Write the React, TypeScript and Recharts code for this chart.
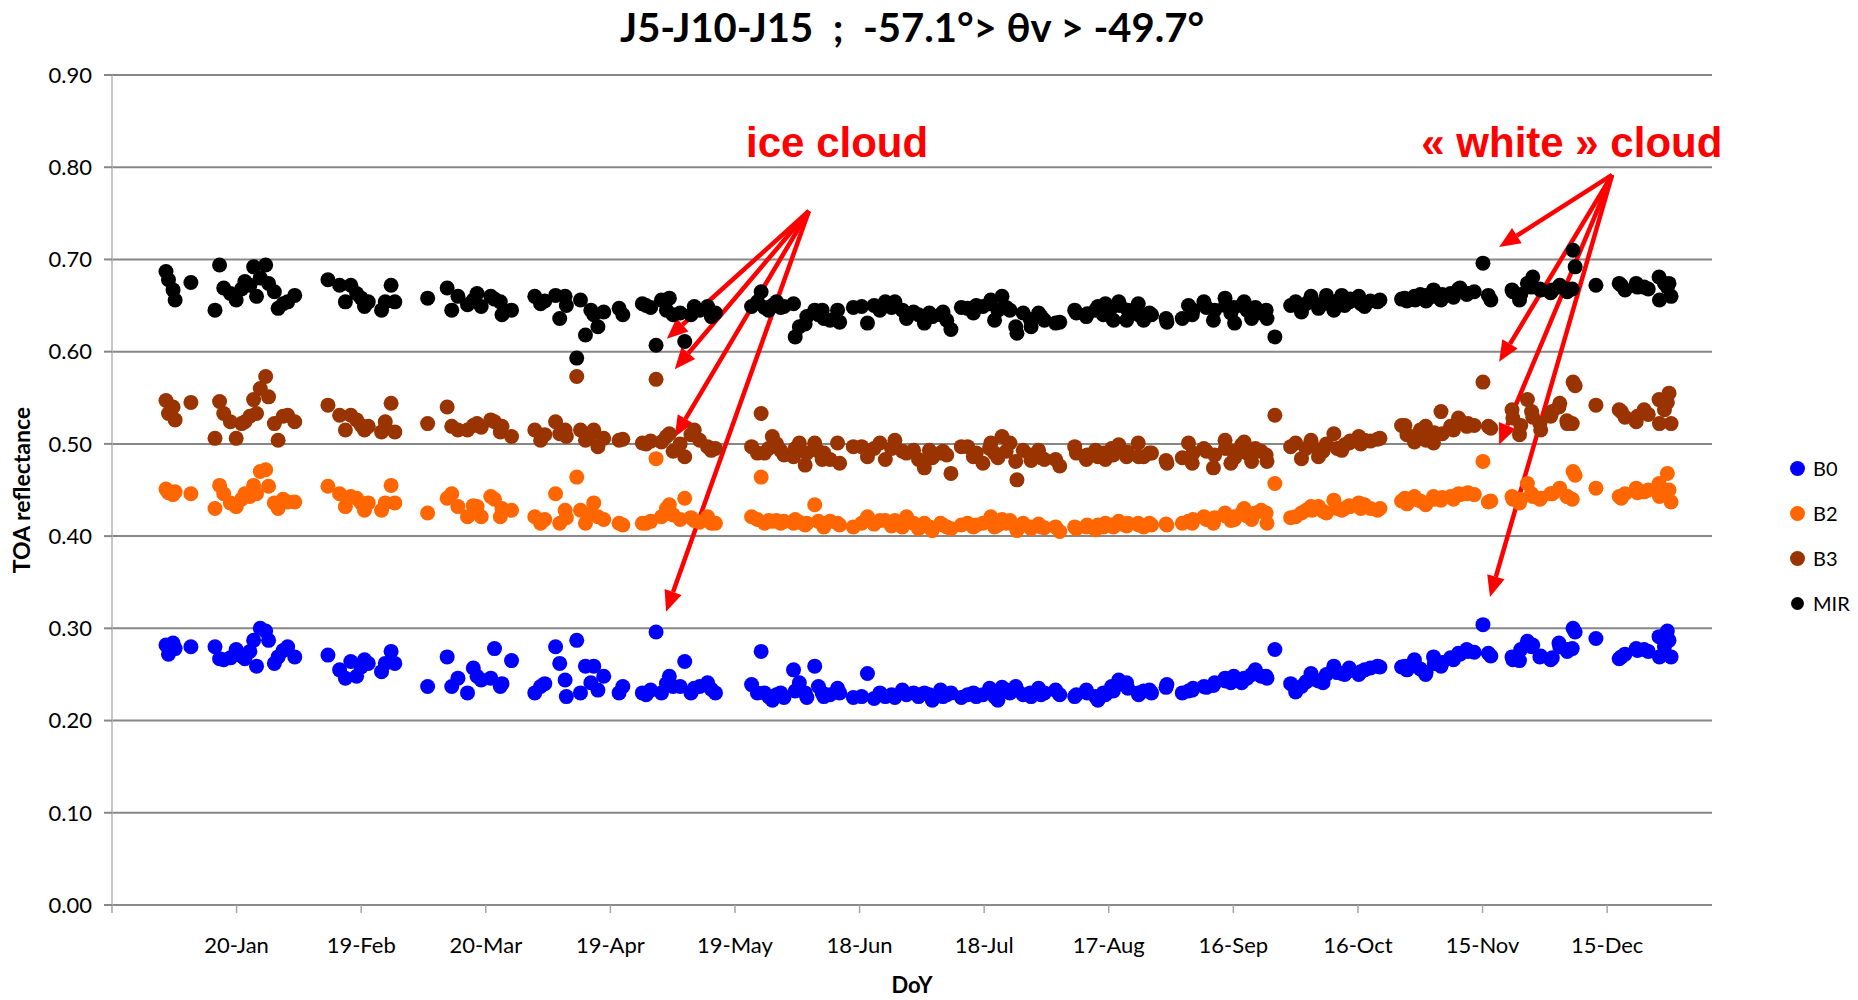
import React from 'react';
import {
  ScatterChart,
  Scatter,
  XAxis,
  YAxis,
  CartesianGrid,
  ReferenceLine,
  ReferenceDot,
  Label,
} from 'recharts';

// Observation days (day of year) shared by all four bands
const days = [
  3, 3.6, 4.7, 5.2, 9,
  14.8, 15.9, 16.9, 18.5, 19.9, 21.2, 22.0, 23.2, 24.1, 24.8, 25.7, 27.0, 27.7, 29.1, 30.0, 31.2, 32.3, 34.0,
  42.0, 44.8, 46.2, 47.5, 48.9, 50.0, 50.8, 51.7, 54.9, 55.8, 57.2, 58.1,
  66.0, 70.7, 71.8, 73.3, 75.6, 77.0, 77.9, 78.9, 81.2, 82.1, 83.5, 83.9, 86.2,
  91.8, 93.2, 94.2, 96.8, 97.8, 99.1, 99.4, 101.9, 102.8, 104.0, 105.3, 106.0, 107.0, 108.4, 112.1, 113.0,
  117.7, 118.6, 119.7, 121.0, 122.3, 123.5, 124.2, 125.1, 126.8, 127.9, 129.4, 130.2, 131.5, 133.4, 134.3, 135.3,
  144.0, 145.4, 146.3, 147.1, 148.1, 149.0, 150.0, 151.0, 151.8, 154.1, 154.5, 155.5, 156.9, 157.3, 159.2, 160.1, 161.0, 161.4, 162.9, 164.7, 165.2,
  168.5, 170.5, 171.9, 173.5, 174.9, 176.2, 177.7, 178.5, 180.3, 181.3, 183.0, 184.2, 185.6, 186.8, 187.5, 189.5, 190.1, 191.0, 192.0,
  194.5, 196.0, 197.4, 198.1, 199.7, 201.3, 201.6, 202.5, 203.3, 204.3, 205.3, 206.2, 207.6, 207.9, 209.4, 211.1, 211.3, 213.1, 213.7, 214.5, 217.2, 218.2,
  221.8, 222.2, 224.6, 224.8, 226.8, 227.4, 228.7, 229.2, 230.7, 231.1, 232.4, 232.7, 234.3, 234.6, 237.1, 237.2, 238.4, 239.8, 240.3, 243.8, 244.0,
  247.7, 249.2, 250.1, 250.3, 252.9, 253.5, 255.2, 255.5, 258.0, 258.1, 259.4, 260.1, 260.3, 262.0, 262.6, 263.3, 264.4, 265.3, 266.7, 267.9, 268.1, 270.0,
  273.8, 275.0, 276.4, 277.5, 278.7, 279.0, 280.5, 281.6, 282.4, 284.2, 285.0, 286.1, 286.8, 287.9, 288.1, 290.2, 290.7, 291.6, 293.0, 294.7, 295.3,
  300.5, 301.3, 301.8, 303.6, 303.8, 305.0, 306.3, 306.4, 308.2, 308.4, 310.0, 310.3, 312.3, 313.0, 314.2, 314.6, 316.2, 316.5, 318.0, 320.1,
  321.4, 322.0, 327.1, 327.3, 328.9, 329.2, 330.8, 331.8, 332.1, 333.8, 334.0, 336.4, 336.8, 338.4, 338.6, 340.3, 340.4, 341.6, 341.8, 342.3,
  347.3, 352.9, 353.4, 354.3, 357.0, 357.3, 358.9, 359.9, 362.5, 362.6, 363.8, 364.5, 364.9, 365.4,
];

const b0 = [
  0.282, 0.272, 0.284, 0.278, 0.280,
  0.280, 0.267, 0.266, 0.268, 0.277, 0.270, 0.267, 0.275, 0.287, 0.259, 0.300, 0.297, 0.287, 0.262, 0.269, 0.276, 0.280, 0.269,
  0.271, 0.255, 0.246, 0.264, 0.248, 0.258, 0.266, 0.262, 0.253, 0.262, 0.275, 0.262,
  0.237, 0.269, 0.237, 0.246, 0.230, 0.257, 0.248, 0.244, 0.246, 0.278, 0.237, 0.240, 0.265,
  0.230, 0.237, 0.240, 0.280, 0.262, 0.244, 0.226, 0.287, 0.230, 0.259, 0.241, 0.259, 0.233, 0.248, 0.230, 0.237,
  0.230, 0.228, 0.233, 0.296, 0.230, 0.240, 0.248, 0.237, 0.237, 0.264, 0.230, 0.235, 0.237, 0.241, 0.234, 0.230,
  0.239, 0.230, 0.275, 0.230, 0.226, 0.222, 0.228, 0.230, 0.225, 0.255, 0.232, 0.241, 0.230, 0.225, 0.259, 0.237, 0.230, 0.226, 0.228, 0.235, 0.230,
  0.225, 0.226, 0.251, 0.224, 0.230, 0.226, 0.228, 0.225, 0.233, 0.228, 0.230, 0.226, 0.230, 0.228, 0.222, 0.233, 0.226, 0.228, 0.230,
  0.225, 0.228, 0.230, 0.226, 0.228, 0.235, 0.230, 0.226, 0.222, 0.236, 0.233, 0.230, 0.237, 0.233, 0.228, 0.230, 0.226, 0.235, 0.228, 0.230, 0.233, 0.228,
  0.226, 0.228, 0.233, 0.230, 0.226, 0.222, 0.230, 0.228, 0.237, 0.232, 0.244, 0.240, 0.241, 0.235, 0.230, 0.228, 0.232, 0.233, 0.230, 0.236, 0.239,
  0.230, 0.232, 0.233, 0.235, 0.237, 0.236, 0.238, 0.241, 0.246, 0.243, 0.241, 0.248, 0.244, 0.241, 0.246, 0.246, 0.250, 0.255, 0.248, 0.248, 0.246, 0.277,
  0.240, 0.231, 0.237, 0.242, 0.251, 0.245, 0.243, 0.241, 0.250, 0.259, 0.252, 0.251, 0.250, 0.257, 0.254, 0.250, 0.253, 0.255, 0.257, 0.259, 0.258,
  0.258, 0.259, 0.255, 0.266, 0.260, 0.256, 0.250, 0.252, 0.269, 0.262, 0.259, 0.263, 0.268, 0.266, 0.273, 0.272, 0.277, 0.275, 0.274, 0.304,
  0.273, 0.270, 0.269, 0.266, 0.265, 0.277, 0.286, 0.280, 0.282, 0.269, 0.270, 0.266, 0.268, 0.284, 0.280, 0.277, 0.275, 0.278, 0.300, 0.296,
  0.289, 0.267, 0.269, 0.272, 0.278, 0.276, 0.277, 0.275, 0.291, 0.269, 0.280, 0.297, 0.287, 0.269,
];

const b2 = [
  0.451, 0.447, 0.445, 0.448, 0.446,
  0.430, 0.455, 0.446, 0.436, 0.432, 0.440, 0.446, 0.443, 0.455, 0.446, 0.470, 0.472, 0.454, 0.436, 0.430, 0.440, 0.437, 0.437,
  0.454, 0.446, 0.432, 0.443, 0.441, 0.436, 0.428, 0.436, 0.428, 0.436, 0.455, 0.436,
  0.425, 0.441, 0.446, 0.432, 0.421, 0.433, 0.432, 0.421, 0.443, 0.440, 0.421, 0.430, 0.428,
  0.421, 0.414, 0.418, 0.446, 0.414, 0.428, 0.420, 0.464, 0.428, 0.414, 0.425, 0.436, 0.421, 0.418, 0.414, 0.412,
  0.414, 0.414, 0.416, 0.484, 0.421, 0.430, 0.434, 0.423, 0.418, 0.441, 0.420, 0.417, 0.415, 0.421, 0.414, 0.414,
  0.421, 0.418, 0.464, 0.414, 0.417, 0.416, 0.417, 0.414, 0.416, 0.414, 0.418, 0.415, 0.412, 0.414, 0.434, 0.416, 0.414, 0.410, 0.416, 0.414, 0.412,
  0.410, 0.414, 0.421, 0.413, 0.417, 0.417, 0.411, 0.417, 0.410, 0.421, 0.414, 0.408, 0.414, 0.410, 0.406, 0.414, 0.412, 0.410, 0.408,
  0.412, 0.414, 0.410, 0.412, 0.414, 0.416, 0.421, 0.410, 0.412, 0.418, 0.414, 0.417, 0.410, 0.406, 0.414, 0.410, 0.408, 0.413, 0.410, 0.409, 0.410, 0.405,
  0.410, 0.408, 0.410, 0.412, 0.407, 0.412, 0.410, 0.414, 0.412, 0.410, 0.416, 0.413, 0.411, 0.414, 0.414, 0.412, 0.410, 0.414, 0.412, 0.413, 0.412,
  0.414, 0.416, 0.414, 0.418, 0.421, 0.418, 0.414, 0.420, 0.425, 0.422, 0.417, 0.421, 0.418, 0.425, 0.430, 0.422, 0.418, 0.425, 0.428, 0.425, 0.414, 0.457,
  0.420, 0.421, 0.425, 0.428, 0.432, 0.428, 0.432, 0.427, 0.425, 0.439, 0.430, 0.428, 0.430, 0.433, 0.432, 0.436, 0.430, 0.434, 0.430, 0.428, 0.430,
  0.438, 0.441, 0.435, 0.443, 0.440, 0.438, 0.434, 0.436, 0.443, 0.440, 0.439, 0.442, 0.443, 0.440, 0.446, 0.445, 0.446, 0.447, 0.445, 0.481,
  0.437, 0.438, 0.443, 0.440, 0.436, 0.440, 0.457, 0.446, 0.443, 0.440, 0.441, 0.446, 0.446, 0.450, 0.452, 0.443, 0.443, 0.440, 0.470, 0.466,
  0.452, 0.443, 0.441, 0.446, 0.452, 0.447, 0.448, 0.450, 0.457, 0.443, 0.446, 0.468, 0.450, 0.437,
];

const b3 = [
  0.547, 0.533, 0.540, 0.526, 0.545,
  0.506, 0.546, 0.533, 0.524, 0.506, 0.522, 0.524, 0.530, 0.548, 0.533, 0.560, 0.573, 0.551, 0.522, 0.504, 0.530, 0.531, 0.524,
  0.542, 0.531, 0.515, 0.531, 0.526, 0.520, 0.515, 0.519, 0.513, 0.524, 0.544, 0.513,
  0.522, 0.540, 0.519, 0.515, 0.515, 0.520, 0.522, 0.518, 0.526, 0.524, 0.513, 0.519, 0.508,
  0.515, 0.504, 0.510, 0.524, 0.511, 0.515, 0.508, 0.573, 0.515, 0.504, 0.510, 0.515, 0.497, 0.506, 0.504, 0.505,
  0.501, 0.500, 0.503, 0.570, 0.502, 0.508, 0.511, 0.492, 0.500, 0.486, 0.510, 0.515, 0.504, 0.497, 0.493, 0.495,
  0.497, 0.490, 0.533, 0.490, 0.495, 0.508, 0.500, 0.493, 0.488, 0.486, 0.495, 0.501, 0.477, 0.490, 0.501, 0.492, 0.483, 0.490, 0.483, 0.501, 0.479,
  0.497, 0.497, 0.486, 0.495, 0.501, 0.483, 0.495, 0.504, 0.492, 0.490, 0.493, 0.483, 0.474, 0.493, 0.485, 0.490, 0.492, 0.488, 0.468,
  0.497, 0.497, 0.486, 0.490, 0.479, 0.495, 0.501, 0.490, 0.485, 0.508, 0.492, 0.501, 0.481, 0.461, 0.493, 0.488, 0.482, 0.493, 0.485, 0.483, 0.483, 0.476,
  0.497, 0.490, 0.483, 0.488, 0.493, 0.486, 0.490, 0.483, 0.495, 0.488, 0.499, 0.493, 0.486, 0.491, 0.501, 0.486, 0.486, 0.490, 0.490, 0.482, 0.479,
  0.485, 0.501, 0.479, 0.490, 0.495, 0.492, 0.474, 0.488, 0.504, 0.495, 0.479, 0.492, 0.485, 0.499, 0.502, 0.490, 0.481, 0.495, 0.492, 0.488, 0.481, 0.531,
  0.497, 0.501, 0.484, 0.495, 0.504, 0.498, 0.486, 0.492, 0.500, 0.511, 0.495, 0.493, 0.499, 0.501, 0.503, 0.508, 0.500, 0.504, 0.503, 0.505, 0.506,
  0.520, 0.520, 0.510, 0.502, 0.505, 0.515, 0.519, 0.504, 0.501, 0.512, 0.535, 0.511, 0.519, 0.515, 0.528, 0.525, 0.519, 0.522, 0.520, 0.567,
  0.519, 0.517, 0.537, 0.528, 0.510, 0.520, 0.548, 0.535, 0.529, 0.522, 0.515, 0.530, 0.535, 0.540, 0.544, 0.525, 0.522, 0.522, 0.567, 0.563,
  0.542, 0.537, 0.535, 0.529, 0.524, 0.530, 0.537, 0.532, 0.548, 0.522, 0.537, 0.545, 0.555, 0.522,
];

const mir = [
  0.687, 0.678, 0.667, 0.656, 0.675,
  0.645, 0.694, 0.669, 0.663, 0.656, 0.668, 0.676, 0.672, 0.692, 0.660, 0.680, 0.694, 0.674, 0.665, 0.647, 0.652, 0.654, 0.661,
  0.678, 0.672, 0.654, 0.672, 0.663, 0.658, 0.649, 0.654, 0.645, 0.654, 0.672, 0.654,
  0.658, 0.669, 0.645, 0.660, 0.651, 0.656, 0.663, 0.649, 0.660, 0.657, 0.654, 0.640, 0.645,
  0.660, 0.652, 0.655, 0.661, 0.636, 0.660, 0.650, 0.593, 0.656, 0.618, 0.645, 0.640, 0.627, 0.643, 0.647, 0.640,
  0.652, 0.650, 0.648, 0.607, 0.656, 0.645, 0.658, 0.640, 0.642, 0.611, 0.640, 0.649, 0.645, 0.649, 0.638, 0.642,
  0.649, 0.654, 0.665, 0.648, 0.645, 0.650, 0.654, 0.648, 0.649, 0.652, 0.616, 0.627, 0.630, 0.638, 0.645, 0.640, 0.645, 0.636, 0.634, 0.645, 0.632,
  0.648, 0.649, 0.631, 0.650, 0.645, 0.654, 0.648, 0.654, 0.645, 0.636, 0.643, 0.640, 0.631, 0.642, 0.638, 0.640, 0.643, 0.634, 0.624,
  0.648, 0.647, 0.642, 0.650, 0.649, 0.652, 0.656, 0.634, 0.645, 0.660, 0.648, 0.645, 0.627, 0.620, 0.642, 0.635, 0.627, 0.642, 0.638, 0.634, 0.631, 0.632,
  0.645, 0.642, 0.638, 0.641, 0.645, 0.649, 0.640, 0.652, 0.648, 0.634, 0.654, 0.650, 0.634, 0.645, 0.652, 0.640, 0.634, 0.642, 0.640, 0.636, 0.632,
  0.636, 0.650, 0.640, 0.645, 0.654, 0.648, 0.634, 0.645, 0.658, 0.650, 0.642, 0.648, 0.631, 0.650, 0.654, 0.645, 0.636, 0.648, 0.642, 0.645, 0.636, 0.616,
  0.650, 0.654, 0.643, 0.652, 0.660, 0.655, 0.647, 0.652, 0.661, 0.645, 0.655, 0.661, 0.650, 0.654, 0.657, 0.660, 0.652, 0.649, 0.655, 0.654, 0.656,
  0.657, 0.658, 0.655, 0.660, 0.656, 0.662, 0.661, 0.655, 0.667, 0.660, 0.656, 0.662, 0.663, 0.659, 0.668, 0.669, 0.662, 0.663, 0.665, 0.696,
  0.661, 0.656, 0.667, 0.665, 0.656, 0.662, 0.674, 0.670, 0.681, 0.668, 0.667, 0.664, 0.667, 0.670, 0.672, 0.668, 0.665, 0.668, 0.710, 0.692,
  0.672, 0.674, 0.672, 0.667, 0.674, 0.670, 0.670, 0.668, 0.681, 0.656, 0.674, 0.670, 0.674, 0.660,
];

// x axis: day-of-year ticks every 30 days, first one (-10) sits on the y axis unlabelled
const xTicks = [-10, 20, 50, 80, 110, 140, 170, 200, 230, 260, 290, 320, 350];
const xTickLabels = ['', '20-Jan', '19-Feb', '20-Mar', '19-Apr', '19-May', '18-Jun', '18-Jul', '17-Aug', '16-Sep', '16-Oct', '15-Nov', '15-Dec'];
const yTicks = [0, 0.1, 0.2, 0.3, 0.4, 0.5, 0.6, 0.7, 0.8, 0.9];

// annotation arrows, in data coordinates
const iceCloudFrom = { x: 157.8, y: 0.7525 };
const iceCloudTo = [
  { x: 123.6, y: 0.614 },
  { x: 125.5, y: 0.581 },
  { x: 125.5, y: 0.5075 },
  { x: 123.4, y: 0.318 },
];
const whiteCloudFrom = { x: 351.2, y: 0.7916 };
const whiteCloudTo = [
  { x: 324.0, y: 0.7135 },
  { x: 324.0, y: 0.589 },
  { x: 324.0, y: 0.499 },
  { x: 321.8, y: 0.334 },
];

const series = [
  { name: 'B0', color: '#0000FF', values: b0, legendSize: 15 },
  { name: 'B2', color: '#FF6600', values: b2, legendSize: 15 },
  { name: 'B3', color: '#993300', values: b3, legendSize: 15 },
  { name: 'MIR', color: '#000000', values: mir, legendSize: 13 },
];

const FONT = 'Lato, "Open Sans", sans-serif';
const RED = '#FF0000';

const makeDot = (color: string) => (props: any) => (
  <circle cx={props.cx} cy={props.cy} r={7.5} fill={color} />
);

const Arrow = (props: any) => {
  const { x1, y1, x2, y2 } = props;
  const ang = Math.atan2(y2 - y1, x2 - x1);
  const len = 21;
  const half = 9;
  const bx = x2 - len * Math.cos(ang);
  const by = y2 - len * Math.sin(ang);
  const pA = `${bx + half * Math.sin(ang)},${by - half * Math.cos(ang)}`;
  const pB = `${bx - half * Math.sin(ang)},${by + half * Math.cos(ang)}`;
  return (
    <g>
      <line x1={x1} y1={y1} x2={bx} y2={by} stroke={RED} strokeWidth={4.5} />
      <polygon points={`${x2},${y2} ${pA} ${pB}`} fill={RED} />
    </g>
  );
};

const noteText = (text: string) => (props: any) => (
  <text
    x={props.cx}
    y={props.cy}
    textAnchor="middle"
    fill={RED}
    fontFamily='"Liberation Sans", Arial, sans-serif'
    fontWeight="bold"
    fontSize={42}
  >
    {text}
  </text>
);

export default function App() {
  const chartSeries = series.map((s) => ({
    ...s,
    data: days.map((d, i) => ({ day: d, v: s.values[i] })),
  }));

  return (
    <div
      style={{
        position: 'absolute',
        left: 0,
        top: 0,
        width: 1858,
        height: 1000,
        background: '#fff',
        overflow: 'hidden',
        fontFamily: FONT,
      }}
    >
      <div
        style={{
          position: 'absolute',
          left: 112,
          width: 1600,
          top: 3,
          textAlign: 'center',
          fontSize: 40,
          fontWeight: 'bold',
          whiteSpace: 'pre',
          lineHeight: '48px',
          color: '#000',
        }}
      >
        {'J5-J10-J15  ;  -57.1°> θv > -49.7°'}
      </div>

      <ScatterChart width={1858} height={1000} margin={{ top: 75, right: 146, bottom: 0, left: 0 }}>
        <CartesianGrid horizontal vertical={false} stroke="#878787" strokeWidth={2} />
        <XAxis
          type="number"
          dataKey="day"
          domain={[-10, 375.25]}
          ticks={xTicks}
          tickFormatter={(d: number) => xTickLabels[xTicks.indexOf(d)] ?? ''}
          height={95}
          tickSize={8}
          tickMargin={24}
          axisLine={{ stroke: '#8a8a8a', strokeWidth: 2 }}
          tickLine={{ stroke: '#a6a6a6', strokeWidth: 1.5 }}
          tick={{ fill: '#000', fontSize: 22, fontFamily: FONT }}
          interval={0}
        >
          <Label
            content={(p: any) => {
              const vb = p.viewBox;
              return (
                <text
                  x={vb.x + vb.width / 2}
                  y={vb.y + 79}
                  textAnchor="middle"
                  dominantBaseline="central"
                  fontSize={22}
                  fontWeight="bold"
                  fontFamily={FONT}
                  fill="#000"
                >
                  DoY
                </text>
              );
            }}
          />
        </XAxis>
        <YAxis
          type="number"
          dataKey="v"
          domain={[0, 0.9]}
          ticks={yTicks}
          tickFormatter={(v: number) => v.toFixed(2)}
          width={112}
          tickSize={8}
          tickMargin={12}
          axisLine={{ stroke: '#b4b4b4', strokeWidth: 1.5 }}
          tickLine={{ stroke: '#878787', strokeWidth: 2 }}
          tick={{ fill: '#000', fontSize: 22, fontFamily: FONT }}
          interval={0}
        >
          <Label
            content={(p: any) => {
              const vb = p.viewBox;
              const cx = vb.x + 21;
              const cy = vb.y + vb.height / 2;
              return (
                <text
                  x={cx}
                  y={cy}
                  transform={`rotate(-90 ${cx} ${cy})`}
                  textAnchor="middle"
                  dominantBaseline="central"
                  fontSize={23}
                  fontWeight="bold"
                  fontFamily={FONT}
                  fill="#000"
                >
                  TOA reflectance
                </text>
              );
            }}
          />
        </YAxis>

        {chartSeries.map((s) => (
          <Scatter
            key={s.name}
            name={s.name}
            data={s.data}
            fill={s.color}
            shape={makeDot(s.color)}
            isAnimationActive={false}
          />
        ))}

        {iceCloudTo.map((t, i) => (
          <ReferenceLine key={`ice-${i}`} segment={[iceCloudFrom, t]} shape={Arrow} />
        ))}
        {whiteCloudTo.map((t, i) => (
          <ReferenceLine key={`white-${i}`} segment={[whiteCloudFrom, t]} shape={Arrow} />
        ))}
        <ReferenceDot x={164.6} y={0.811} r={0} shape={noteText('ice cloud')} ifOverflow="visible" />
        <ReferenceDot x={341.5} y={0.811} r={0} shape={noteText('« white » cloud')} ifOverflow="visible" />
      </ScatterChart>

      {/* Legend */}
      <div style={{ position: 'absolute', left: 1789, top: 445.5 }}>
        {series.map((s) => (
          <div key={s.name} style={{ display: 'flex', alignItems: 'center', height: 45 }}>
            <div style={{ width: 16, display: 'flex', justifyContent: 'center' }}>
              <div
                style={{
                  width: s.legendSize,
                  height: s.legendSize,
                  borderRadius: '50%',
                  background: s.color,
                }}
              />
            </div>
            <span style={{ marginLeft: 8, fontSize: 20, color: '#000' }}>{s.name}</span>
          </div>
        ))}
      </div>
    </div>
  );
}
